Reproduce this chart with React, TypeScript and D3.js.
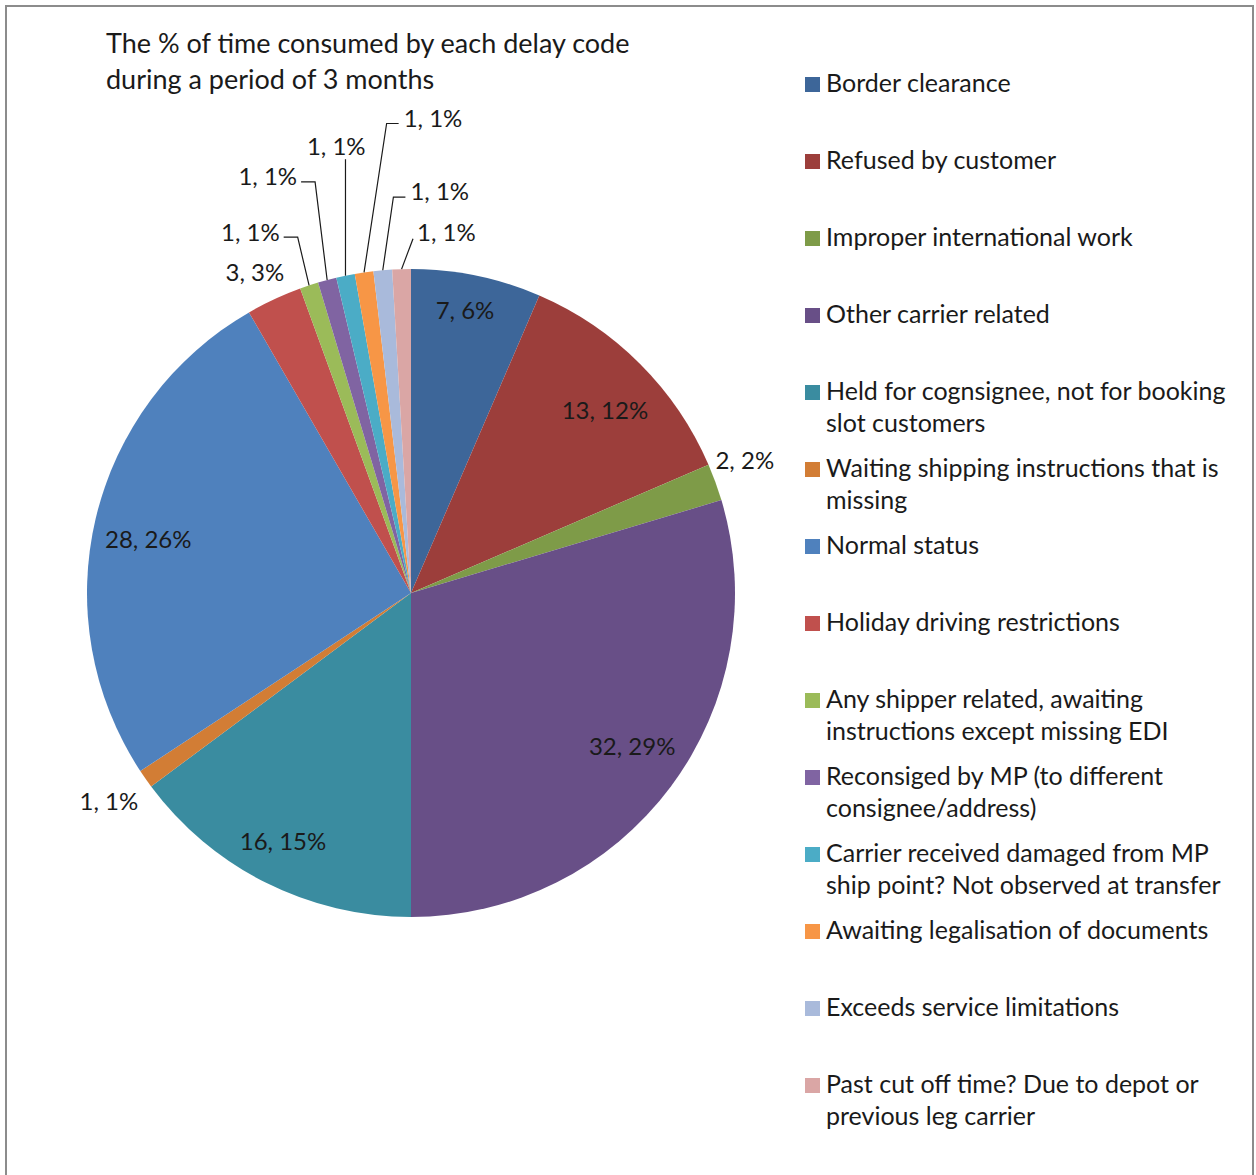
import React from "react";
import * as d3 from "d3";

const title = ["The % of time consumed by each delay code", "during a period of 3 months"];

const categories = [
  "Border clearance",
  "Refused by customer",
  "Improper international work",
  "Other carrier related",
  "Held for cognsignee, not for booking slot customers",
  "Waiting shipping instructions that is missing",
  "Normal status",
  "Holiday driving restrictions",
  "Any shipper related, awaiting instructions except missing EDI",
  "Reconsiged by MP (to different consignee/address)",
  "Carrier received damaged from MP ship point? Not observed at transfer",
  "Awaiting legalisation of documents",
  "Exceeds service limitations",
  "Past cut off time? Due to depot or previous leg carrier",
];

const values = [7, 13, 2, 32, 16, 1, 28, 3, 1, 1, 1, 1, 1, 1];
const pctLabels = ["6%", "12%", "2%", "29%", "15%", "1%", "26%", "3%", "1%", "1%", "1%", "1%", "1%", "1%"];

const colors = [
  "#3D6699", "#9C3E3B", "#7E9B48", "#684F87", "#3A8CA0", "#D27D35",
  "#4F81BD", "#C0504D", "#9BBB59", "#8064A2", "#4BACC6", "#F79646",
  "#A9BADB", "#DAA6A5",
];

// label layout: mode, radius (px from centre), angle (deg, clockwise from 12 o'clock; null = slice middle), leader side
const labelLayout: { mode: string; r: number; angle: number | null; side?: string }[] = [
  { mode: "in", r: 288, angle: 10.8 },
  { mode: "in", r: 266, angle: 46.8 },
  { mode: "out", r: 359, angle: 68.4 },
  { mode: "in", r: 269, angle: 124.7 },
  { mode: "in", r: 280, angle: 207.2 },
  { mode: "out", r: 367, angle: 235.4 },
  { mode: "in", r: 268, angle: 281.4 },
  { mode: "out", r: 356, angle: 334 },
  { mode: "leader", r: 395, angle: 336, side: "right" },
  { mode: "leader", r: 440, angle: 341, side: "right" },
  { mode: "leader", r: 453, angle: 350.5, side: "bottom" },
  { mode: "leader", r: 475, angle: 2.65, side: "left" },
  { mode: "leader", r: 402, angle: 4.1, side: "left" },
  { mode: "leader", r: 362, angle: 5.6, side: "leftDirect" },
];

const FONT = "Lato, 'Open Sans', sans-serif";
const LEGEND_SIZE = 25;
const LABEL_SIZE = 24;
const TITLE_SIZE = 27;

function measure(text: string, size: number): number {
  const c = document.createElement("canvas").getContext("2d");
  if (!c) return text.length * size * 0.5;
  c.font = `${size}px Lato`;
  return c.measureText(text).width;
}

function wrap(text: string, maxW: number, size: number): string[] {
  const words = text.split(" ");
  const lines: string[] = [];
  let cur = "";
  for (const w of words) {
    const t = cur ? cur + " " + w : w;
    if (measure(t, size) > maxW && cur) {
      lines.push(cur);
      cur = w;
    } else cur = t;
  }
  if (cur) lines.push(cur);
  return lines;
}

export default function App() {
  const W = 1256, H = 1175;
  const cx = 411, cy = 593, R = 324;
  const pie = d3.pie<number>().sort(null).value((d) => d);
  const arcs = pie(values);
  const arc = d3.arc<d3.PieArcDatum<number>>().innerRadius(0).outerRadius(R);
  const toRad = (deg: number) => (deg * Math.PI) / 180;
  const polar = (r: number, a: number) => [cx + r * Math.sin(a), cy - r * Math.cos(a)];

  const legendX = 805;
  const legendY0 = 77;
  const legendStep = 77;
  const maxW = measure("Border clearance", LEGEND_SIZE) * (415 / 184);

  const hw = measure("1, 1%", LABEL_SIZE) / 2;

  return (
    <svg width={W} height={H} style={{ position: "absolute", left: 0, top: 0, background: "#fff" }} fontFamily={FONT}>
      <rect x={6} y={6} width={1247} height={1200} fill="#fff" stroke="#8c8c8c" strokeWidth={2} />
      {title.map((t, i) => (
        <text key={i} x={106} y={53 + i * 36} fontSize={TITLE_SIZE} fill="#1a1a1a">{t}</text>
      ))}
      <g transform={`translate(${cx},${cy})`}>
        {arcs.map((a, i) => (
          <path key={i} d={arc(a) || ""} fill={colors[i]} />
        ))}
      </g>
      {arcs.map((a, i) => {
        const L = labelLayout[i];
        const mid = (a.startAngle + a.endAngle) / 2;
        const ang = L.angle === null ? mid : toRad(L.angle);
        const [lx, ly] = polar(L.r, ang);
        const txt = `${values[i]}, ${pctLabels[i]}`;
        let line = null;
        if (L.mode === "leader") {
          const [ex, ey] = polar(R, mid);
          let pts: number[][] = [];
          if (L.side === "right") pts = [[lx + hw + 4, ly + 5], [lx + hw + 18, ly + 5], [ex, ey]];
          else if (L.side === "left") pts = [[lx - hw - 5, ly + 5], [lx - hw - 17, ly + 5], [ex, ey]];
          else if (L.side === "leftDirect") pts = [[lx - hw - 4, ly + 6], [ex, ey]];
          else pts = [[ex, ly + 13], [ex, ey]];
          line = <polyline points={pts.map((p) => p.join(",")).join(" ")} fill="none" stroke="#1a1a1a" strokeWidth={1.2} />;
        }
        return (
          <g key={i}>
            {line}
            <text x={lx} y={ly} dy="0.35em" textAnchor="middle" fontSize={LABEL_SIZE} fill="#1a1a1a">{txt}</text>
          </g>
        );
      })}
      {categories.map((c, i) => {
        const y = legendY0 + i * legendStep;
        const lines = wrap(c, maxW, LEGEND_SIZE);
        return (
          <g key={i}>
            <rect x={legendX} y={y} width={15} height={15} fill={colors[i]} />
            {lines.map((ln, j) => (
              <text key={j} x={826} y={y + 15 + j * 32} fontSize={LEGEND_SIZE} fill="#1a1a1a">{ln}</text>
            ))}
          </g>
        );
      })}
    </svg>
  );
}
